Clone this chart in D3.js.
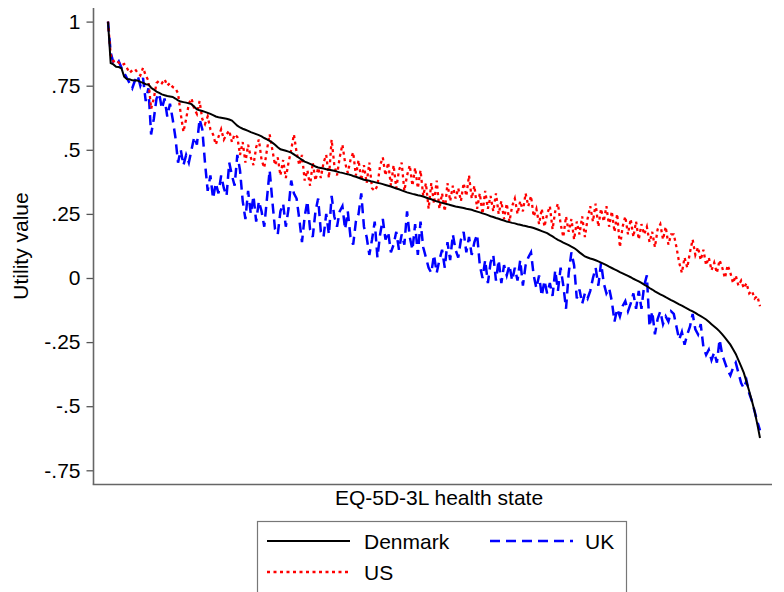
<!DOCTYPE html>
<html>
<head>
<meta charset="utf-8">
<script src="https://cdn.jsdelivr.net/npm/d3@7"></script>
<style>
  html, body { margin: 0; padding: 0; background: #fff; }
  svg { display: block; font-family: "Liberation Sans", Arial, sans-serif; }
</style>
</head>
<body>
<svg id="chart" width="784" height="592"></svg>
<script>
// ---- Data (health states ordered by Danish utility) ----
const denmark = [
1.000,.838,.833,.824,.823,.818,.785,.776,.775,.771,
.770,.770,.765,.761,.756,.755,.742,.735,.727,.722,
.716,.713,.710,.708,.706,.700,.693,.688,.686,.684,
.681,.678,.668,.658,.654,.651,.648,.644,.640,.635,
.630,.627,.625,.623,.621,.618,.614,.604,.594,.587,
.582,.578,.574,.569,.565,.561,.557,.552,.546,.541,
.535,.528,.520,.510,.502,.499,.496,.493,.489,.482,
.475,.468,.461,.454,.450,.445,.440,.435,.431,.429,
.427,.424,.422,.420,.418,.415,.412,.410,.407,.405,
.402,.398,.395,.391,.387,.383,.381,.379,.376,.374,
.371,.369,.366,.363,.360,.357,.353,.349,.346,.342,
.338,.334,.331,.328,.326,.323,.321,.318,.314,.310,
.307,.303,.299,.296,.293,.290,.288,.285,.282,.279,
.277,.275,.273,.270,.268,.266,.262,.259,.256,.252,
.249,.245,.241,.238,.234,.231,.227,.224,.220,.218,
.215,.213,.210,.208,.205,.203,.200,.198,.195,.191,
.187,.183,.179,.175,.168,.162,.155,.149,.144,.138,
.133,.128,.122,.117,.109,.100,.092,.084,.080,.076,
.073,.069,.065,.060,.055,.050,.044,.039,.034,.029,
.023,.018,.013,.008,.003,-.003,-.008,-.013,-.019,-.026,
-.032,-.039,-.045,-.052,-.058,-.064,-.069,-.075,-.080,-.086,
-.091,-.097,-.103,-.108,-.114,-.119,-.125,-.130,-.136,-.143,
-.149,-.155,-.162,-.171,-.180,-.189,-.198,-.208,-.220,-.233,
-.246,-.260,-.278,-.296,-.320,-.345,-.370,-.405,-.442,-.480,
-.520,-.570,-.624
];

const us = [
1.00,.87,.845,.85,.84,.83,.835,.82,.80,.81,
.815,.80,.79,.82,.79,.77,.66,.70,.76,.77,
.76,.775,.75,.76,.745,.74,.72,.64,.57,.62,
.68,.70,.66,.64,.69,.62,.60,.63,.58,.56,
.52,.55,.58,.54,.56,.575,.53,.56,.55,.48,
.53,.45,.52,.47,.44,.51,.54,.46,.43,.50,
.56,.50,.44,.47,.40,.46,.39,.45,.50,.56,
.49,.44,.48,.38,.42,.36,.45,.38,.43,.39,
.45,.48,.39,.54,.44,.40,.47,.52,.45,.41,
.46,.49,.40,.46,.38,.44,.37,.45,.35,.34,
.36,.44,.47,.40,.45,.36,.44,.35,.42,.45,
.34,.40,.44,.36,.43,.35,.42,.32,.37,.27,
.37,.29,.38,.27,.33,.26,.37,.30,.36,.31,
.35,.30,.37,.32,.40,.31,.36,.27,.33,.25,
.34,.27,.32,.26,.33,.25,.30,.23,.29,.22,
.28,.31,.25,.30,.26,.33,.28,.32,.24,.27,
.21,.27,.20,.25,.28,.19,.26,.29,.21,.16,
.24,.18,.23,.15,.22,.17,.24,.16,.23,.28,
.22,.29,.20,.27,.22,.28,.20,.26,.18,.25,
.12,.20,.24,.17,.23,.16,.22,.15,.21,.17,
.20,.14,.18,.12,.19,.21,.15,.20,.13,.17,
.17,.12,.06,.02,.08,.04,.10,.15,.09,.12,
.07,.11,.05,.08,.03,.06,.02,.07,.04,.00,
.05,.02,-.02,.01,-.03,-.01,-.04,-.02,-.06,-.05,
-.08,-.07,-.11
];

const uk = [
1.00,.88,.84,.83,.845,.82,.80,.78,.76,.74,
.77,.79,.75,.78,.69,.74,.56,.62,.70,.72,
.66,.70,.63,.68,.62,.55,.45,.50,.44,.48,
.45,.50,.55,.52,.62,.58,.45,.34,.40,.31,
.37,.33,.40,.35,.32,.45,.40,.36,.48,.42,
.30,.23,.34,.25,.32,.22,.30,.26,.20,.31,
.42,.30,.19,.17,.26,.29,.20,.27,.38,.33,
.31,.23,.14,.24,.30,.19,.16,.26,.31,.18,
.16,.25,.17,.32,.24,.20,.26,.28,.19,.26,
.16,.13,.22,.25,.33,.20,.16,.09,.15,.22,
.08,.17,.23,.15,.18,.10,.13,.18,.11,.17,
.13,.26,.16,.11,.21,.09,.22,.12,.08,.04,
.02,.09,.02,.07,.11,.04,.14,.07,.17,.11,
.08,.15,.18,.10,.16,.09,.14,.17,.05,.00,
.07,-.02,.06,.09,-.01,.07,-.02,.05,.01,.05,
-.01,.04,-.01,.07,-.03,.05,.08,.10,.01,-.04,
.01,-.07,-.01,-.06,-.02,-.07,.03,-.05,.04,-.03,
-.12,.02,.10,.05,-.08,-.045,-.10,-.06,-.08,-.05,
.00,.04,-.03,.06,-.02,-.06,-.04,-.09,-.17,-.12,
-.15,-.11,-.09,-.13,-.10,-.06,-.12,-.05,-.12,-.03,
.01,-.19,-.13,-.22,-.16,-.13,-.18,-.15,-.17,-.13,
-.14,-.19,-.24,-.21,-.26,-.22,-.19,-.14,-.20,-.22,
-.18,-.27,-.30,-.28,-.32,-.29,-.33,-.24,-.30,-.33,
-.36,-.38,-.35,-.33,-.37,-.41,-.43,-.40,-.45,-.48,
-.52,-.56,-.594
];

const yTickValues = [1, 0.75, 0.5, 0.25, 0, -0.25, -0.5, -0.75];
const yTickLabels = ["1", ".75", ".5", ".25", "0", "-.25", "-.5", "-.75"];
const seriesNames = ["Denmark", "UK", "US"];
const xTitle = "EQ-5D-3L health state";
const yTitle = "Utility value";

// ---- Layout ----
const svg = d3.select("#chart");
const axisX0 = 93.5, axisX1 = 772, axisYTop = 8, axisYBottom = 484.5;
const FONT = 21;

const x = d3.scaleLinear().domain([0, denmark.length - 1]).range([108, 760]);
const y = d3.scaleLinear().domain([-0.75, 1]).range([470.3, 21.6]);

// Axes
const yAxis = d3.axisLeft(y)
  .tickValues(yTickValues)
  .tickFormat((d, i) => yTickLabels[i])
  .tickSize(7).tickPadding(6);
const gy = svg.append("g").attr("transform", `translate(${axisX0},0)`).call(yAxis);
gy.select(".domain").remove();
gy.selectAll(".tick line").attr("stroke", "#555").attr("stroke-width", 1.3);
gy.selectAll(".tick text").attr("font-size", FONT).attr("fill", "#000")
  .attr("font-family", "'Liberation Sans', Arial, sans-serif");

svg.append("line").attr("x1", axisX0).attr("x2", axisX0)
  .attr("y1", axisYTop).attr("y2", axisYBottom)
  .attr("stroke", "#666").attr("stroke-width", 1.6);
svg.append("line").attr("x1", axisX0 - 0.8).attr("x2", axisX1)
  .attr("y1", axisYBottom).attr("y2", axisYBottom)
  .attr("stroke", "#666").attr("stroke-width", 1.6);

// Titles
svg.append("text").attr("x", 439).attr("y", 505)
  .attr("text-anchor", "middle").attr("font-size", FONT).text(xTitle);
svg.append("text").attr("transform", "translate(28,246) rotate(-90)")
  .attr("text-anchor", "middle").attr("font-size", FONT).text(yTitle);

// Lines
const line = d3.line().x((d, i) => x(i)).y(d => y(d));
const styles = {
  Denmark: { data: denmark, color: "#000000", dash: null, width: 2 },
  UK: { data: uk, color: "#0000ff", dash: "10,6", width: 2.5 },
  US: { data: us, color: "#ff0000", dash: "3,3.5", width: 2.3 }
};
["UK", "US", "Denmark"].forEach(name => {
  const s = styles[name];
  svg.append("path").datum(s.data)
    .attr("d", line).attr("fill", "none")
    .attr("stroke", s.color).attr("stroke-width", s.width)
    .attr("stroke-dasharray", s.dash)
    .attr("stroke-linejoin", "miter");
});

// Legend
const lg = svg.append("g");
lg.append("rect").attr("x", 257.5).attr("y", 521.5).attr("width", 369).attr("height", 90)
  .attr("fill", "#fff").attr("stroke", "#777").attr("stroke-width", 1.2);
const legendItems = [
  { name: "Denmark", lx: 267, ly: 541, tx: 364 },
  { name: "UK", lx: 490, ly: 541, tx: 585 },
  { name: "US", lx: 267, ly: 572, tx: 364 }
];
legendItems.forEach(it => {
  const s = styles[it.name];
  lg.append("line").attr("x1", it.lx).attr("x2", it.lx + 83)
    .attr("y1", it.ly).attr("y2", it.ly)
    .attr("stroke", s.color).attr("stroke-width", s.width)
    .attr("stroke-dasharray", s.dash);
  lg.append("text").attr("x", it.tx).attr("y", it.ly + 8)
    .attr("font-size", FONT).text(it.name);
});
</script>
</body>
</html>
